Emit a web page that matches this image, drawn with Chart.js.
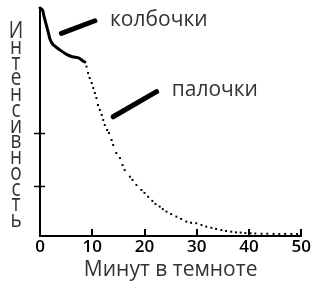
<!DOCTYPE html>
<html><head><meta charset="utf-8">
<script src="https://cdn.jsdelivr.net/npm/chart.js@4/dist/chart.umd.min.js"></script>
<style>html,body{margin:0;padding:0;background:#fff}#wrap{width:312px;height:288px}</style>
</head><body><div id="wrap"><canvas id="c" width="312" height="288"></canvas></div>
<script>
const xTickValues = [0, 10, 20, 30, 40, 50];
const xTickLabels = ['0', '10', '20', '30', '40', '50'];
const yTickValues = [22, 45];
const xTitle = 'Минут в темноте';
const yTitle = 'Интенсивность';

const coneMinutes   = [0, 0.5, 0.7, 1.15, 1.66, 1.9, 2.4, 3.05, 4.0, 5.0, 6.2, 7.4, 8.15, 8.6];
const coneIntensity = [100, 99, 97, 93, 88.6, 86.4, 84.2, 82.9, 81.3, 79.8, 78.6, 78.1, 76.9, 76.3];

const rodMinutes = [8.9, 9.2, 9.5, 9.9, 10.2, 10.5, 10.8, 11.1, 11.45, 11.8, 12.1, 12.4, 12.85, 13.2,
  13.7, 14.0, 14.6, 15.3, 15.8, 16.2, 17.2, 17.7, 18.45, 19.4, 20.0, 20.7, 21.5, 22.1, 22.9, 23.5,
  24.2, 25.1, 26.1, 27.0, 28.0, 28.9, 29.9, 30.9, 31.8, 32.8, 33.7, 34.7, 35.6, 36.6, 37.5, 38.4,
  39.3, 40.3, 41.2, 42.4, 43.5, 44.7, 45.8, 46.9, 48.1, 49.2];
const rodIntensity = [74.3, 71.5, 69.3, 67.1, 64.9, 62.7, 60.5, 57.5, 55.3, 53.1, 50.9, 48.7, 46.5, 45.2,
  42.1, 39.9, 36.4, 34.2, 31.1, 28.9, 26.0, 24.6, 22.4, 20.2, 18.9, 17.2, 15.4, 14.0, 12.9, 11.8,
  10.7, 9.6, 8.5, 7.5, 6.3, 5.8, 5.6, 4.8, 4.1, 3.6, 3.1, 2.6, 2.2, 1.9, 1.6, 1.5,
  1.3, 1.2, 1.1, 1.0, 1.0, 0.9, 0.9, 0.9, 0.9, 0.9];

const annotationLabels = ['колбочки', 'палочки'];
const pointerMinutes   = [[4.1, 10.5], [14.0, 22.3]];
const pointerIntensity = [[88.9, 94.4], [52.3, 63.3]];
const labelMinutes     = [13.4, 25.2];
const labelIntensity   = [94.7, 64.0];

const decor = {
  id: 'decor',
  afterDraw(chart) {
    const ctx = chart.ctx, xs = chart.scales.x, ys = chart.scales.y;
    const a = chart.chartArea;
    ctx.save();
    ctx.strokeStyle = '#000';
    ctx.lineWidth = 2;
    xTickValues.forEach(v => {
      const px = Math.round(xs.getPixelForValue(v));
      ctx.beginPath(); ctx.moveTo(px, a.bottom); ctx.lineTo(px, a.bottom - 7); ctx.stroke();
    });
    ctx.lineWidth = 1.5;
    yTickValues.forEach(v => {
      const py = Math.round(ys.getPixelForValue(v)) + 0.5;
      ctx.beginPath(); ctx.moveTo(a.left - 6, py); ctx.lineTo(a.left + 5, py); ctx.stroke();
    });
    // y title, stacked letters
    ctx.fillStyle = '#333';
    ctx.font = '19px "Open Sans"';
    ctx.textAlign = 'center';
    ctx.textBaseline = 'alphabetic';
    const letters = Array.from(yTitle);
    const top = a.top + 30, bottom = a.bottom - 9;
    const step = (bottom - top) / (letters.length - 1);
    letters.forEach((ch, i) => {
      ctx.save();
      ctx.translate(16, top + i * step);
      ctx.scale(1, 1.2);
      ctx.fillText(ch, 0, 0);
      ctx.restore();
    });
    // annotation labels
    ctx.fillStyle = '#333';
    ctx.font = '21px "Open Sans"';
    ctx.textAlign = 'left';
    ctx.textBaseline = 'middle';
    annotationLabels.forEach((t, i) => {
      ctx.fillText(t, xs.getPixelForValue(labelMinutes[i]), ys.getPixelForValue(labelIntensity[i]));
    });
    ctx.restore();
  }
};

const datasets = [
  {
    type: 'line',
    data: coneMinutes.map((m, i) => ({x: m, y: coneIntensity[i]})),
    borderColor: '#000', borderWidth: 3, pointRadius: 0, tension: 0.2, fill: false, clip: false,
    borderJoinStyle: 'round', borderCapStyle: 'round'
  },
  {
    type: 'scatter',
    data: rodMinutes.map((m, i) => ({x: m, y: rodIntensity[i]})),
    showLine: false, pointStyle: 'rect', pointRadius: 1.4, pointBorderWidth: 0,
    backgroundColor: '#000', borderColor: '#000', clip: false
  }
];
pointerMinutes.forEach((ms, k) => {
  datasets.push({
    type: 'line',
    data: ms.map((m, i) => ({x: m, y: pointerIntensity[k][i]})),
    borderColor: '#000', borderWidth: 5, borderCapStyle: 'round', pointRadius: 0, fill: false, clip: false
  });
});

new Chart(document.getElementById('c'), {
  data: {datasets},
  options: {
    responsive: false,
    animation: false,
    devicePixelRatio: 1,
    layout: {padding: {top: 8, right: 10, left: 0, bottom: 0}},
    plugins: {legend: {display: false}, tooltip: {enabled: false}},
    scales: {
      x: {
        type: 'linear', min: 0, max: 50,
        afterBuildTicks: s => { s.ticks = xTickValues.map(v => ({value: v})); },
        afterFit: s => { s.height = 52; },
        ticks: {
          autoSkip: false, maxRotation: 0, padding: 1, color: '#000',
          font: {family: 'Open Sans', size: 17, weight: '600'},
          callback: (v) => xTickLabels[xTickValues.indexOf(v)]
        },
        grid: {drawOnChartArea: false, drawTicks: false},
        border: {display: true, color: '#000', width: 2},
        title: {display: true, text: xTitle, color: '#333', font: {family: 'Open Sans', size: 21}, padding: {top: 0, bottom: 5}}
      },
      y: {
        type: 'linear', min: 0, max: 100,
        afterFit: s => { s.width = 40; },
        ticks: {display: false},
        grid: {drawOnChartArea: false, drawTicks: false},
        border: {display: true, color: '#000', width: 2}
      }
    }
  },
  plugins: [decor]
});
</script>
</body></html>
